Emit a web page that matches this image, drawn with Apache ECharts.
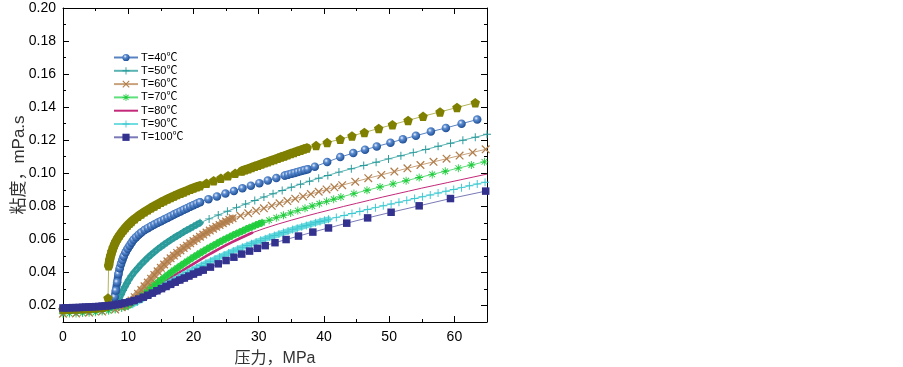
<!DOCTYPE html>
<html><head><meta charset="utf-8">
<script src="https://cdn.jsdelivr.net/npm/echarts@6/dist/echarts.min.js"></script>
<style>html,body{margin:0;padding:0;background:#fff}#c{width:903px;height:367px}</style>
</head><body><div id="c"></div>
<script>
// ---- tick values ----
const pressureTicks = [0, 10, 20, 30, 40, 50, 60];
const pressureMinor = [5, 15, 25, 35, 45, 55];
const viscTicks = [0.02, 0.04, 0.06, 0.08, 0.10, 0.12, 0.14, 0.16, 0.18, 0.20];
const viscMinor = [0.03, 0.05, 0.07, 0.09, 0.11, 0.13, 0.15, 0.17, 0.19];

const legendNames = ['T=40℃', 'T=50℃', 'T=60℃', 'T=70℃', 'T=80℃', 'T=90℃', 'T=100℃'];

// ---- series data: [pressure MPa, viscosity mPa.s] ----
const t30 = [[0,0.0176],[1,0.0177],[2,0.0178],[3,0.0180],[4,0.0182],[5,0.0185],[6,0.0189],[6.6,0.0195],[6.9,0.0245],[7.0,0.0440],[7.15,0.0475],[7.3,0.0500],[7.5,0.0527],[7.7,0.0550],[7.9,0.0570],[8.1,0.0587],[8.4,0.0608],[8.7,0.0626],[9.0,0.0643],[9.3,0.0658],[9.6,0.0672],[9.9,0.0685],[10.2,0.0697],[10.5,0.0708],[11,0.0725],[11.5,0.0740],[12,0.0754],[12.5,0.0767],[13,0.0779],[13.5,0.0791],[14,0.0802],[14.5,0.0813],[15,0.0824],[15.5,0.0834],[16,0.0844],[16.5,0.0853],[17,0.0862],[17.5,0.0871],[18,0.0879],[18.5,0.0887],[19,0.0895],[19.5,0.0903],[20,0.0911],[20.5,0.0918],[21,0.0925],[22,0.0940],[23.1,0.0955],[24.2,0.0970],[25.3,0.0985],[26.4,0.1000],[27.4,0.1014],[27.9,0.1021],[28.4,0.1028],[28.9,0.1035],[29.4,0.1042],[29.9,0.1049],[30.4,0.1056],[30.9,0.1063],[31.4,0.1070],[31.9,0.1077],[32.4,0.1084],[32.9,0.1091],[33.4,0.1098],[33.9,0.1105],[34.4,0.1112],[34.9,0.1119],[35.4,0.1126],[35.9,0.1133],[36.4,0.1140],[36.9,0.1147],[37.4,0.1153],[38.8,0.1168],[40.5,0.1186],[42.5,0.1206],[44.3,0.1226],[46.2,0.1247],[48.4,0.1271],[50.5,0.1294],[52.9,0.1320],[55.2,0.1345],[57.8,0.1371],[60.4,0.1398],[63.2,0.1427]];

const t40 = [[0,0.0178],[1,0.0179],[2,0.0180],[3,0.0182],[4,0.0184],[5,0.0187],[6,0.0191],[6.5,0.0194],[7,0.0198],[7.4,0.0207],[7.7,0.0222],[7.9,0.0250],[8.1,0.0290],[8.3,0.0340],[8.5,0.0390],[8.7,0.0425],[8.9,0.0452],[9.1,0.0475],[9.3,0.0497],[9.6,0.0522],[9.9,0.0543],[10.2,0.0562],[10.5,0.0580],[10.8,0.0597],[11.2,0.0613],[11.6,0.0628],[12,0.0641],[12.5,0.0656],[13,0.0668],[13.5,0.0679],[14,0.0690],[14.5,0.0700],[15,0.0710],[15.5,0.0720],[16,0.0730],[16.5,0.0740],[17,0.0750],[17.5,0.0760],[18,0.0769],[18.5,0.0779],[19,0.0788],[19.5,0.0798],[20,0.0807],[20.5,0.0816],[21,0.0825],[22.3,0.0843],[23.6,0.0860],[24.9,0.0877],[26.2,0.0893],[27.5,0.0909],[28.8,0.0925],[30.1,0.0940],[31.4,0.0956],[32.7,0.0971],[34,0.0986],[34.5,0.0991],[35,0.0997],[35.5,0.1002],[36,0.1008],[36.5,0.1013],[37,0.1019],[37.5,0.1024],[38.6,0.1040],[40.5,0.1068],[42.5,0.1098],[44.5,0.1122],[46.3,0.1143],[48.1,0.1162],[50.2,0.1185],[52.1,0.1206],[54.1,0.1227],[56.4,0.1252],[58.7,0.1274],[61.1,0.1300],[63.5,0.1325]];

const t50 = [[0,0.0160],[1,0.0161],[2,0.0163],[3,0.0165],[4,0.0167],[5,0.0170],[6,0.0175],[7,0.0182],[7.5,0.0190],[8,0.0203],[8.3,0.0218],[8.6,0.0240],[8.9,0.0265],[9.2,0.0290],[9.5,0.0313],[9.8,0.0335],[10.1,0.0356],[10.5,0.0380],[11,0.0405],[11.5,0.0428],[12,0.0450],[12.5,0.0470],[13,0.0489],[13.5,0.0507],[14,0.0524],[14.5,0.0540],[15,0.0555],[15.5,0.0569],[16,0.0583],[16.5,0.0596],[17,0.0609],[17.5,0.0621],[18,0.0633],[18.5,0.0645],[19,0.0656],[19.5,0.0667],[20,0.0678],[20.5,0.0689],[21,0.0700],[22.4,0.0724],[23.8,0.0747],[25.2,0.0770],[26.6,0.0792],[28.0,0.0814],[29.4,0.0835],[30.8,0.0856],[32.2,0.0876],[33.6,0.0896],[35.0,0.0915],[36.4,0.0934],[37.8,0.0952],[39.2,0.0970],[40.6,0.0987],[42.3,0.1007],[44.2,0.1027],[46.1,0.1047],[48.0,0.1067],[49.9,0.1087],[51.8,0.1106],[53.7,0.1125],[55.6,0.1144],[57.5,0.1163],[59.4,0.1182],[61.3,0.1200],[63.2,0.1218],[65,0.1236]];

const t60 = [[0,0.0150],[2,0.0152],[4,0.0156],[6,0.0163],[8,0.0175],[9,0.0190],[9.5,0.0200],[10,0.0213],[10.5,0.0230],[11,0.0250],[11.5,0.0271],[12,0.0293],[12.5,0.0316],[13,0.0339],[13.5,0.0362],[14,0.0385],[14.5,0.0407],[15,0.0428],[15.5,0.0448],[16,0.0467],[16.5,0.0485],[17,0.0502],[17.5,0.0518],[18,0.0533],[18.5,0.0548],[19,0.0562],[19.5,0.0576],[20,0.0590],[20.5,0.0603],[21,0.0616],[21.5,0.0629],[22,0.0641],[22.5,0.0653],[23,0.0665],[23.5,0.0676],[24,0.0687],[24.5,0.0698],[25,0.0708],[25.5,0.0718],[26,0.0728],[27.2,0.0743],[28.4,0.0758],[29.6,0.0773],[30.8,0.0788],[32,0.0803],[33.2,0.0818],[34.4,0.0832],[35.6,0.0846],[36.8,0.0860],[38,0.0874],[39.2,0.0888],[40.4,0.0902],[41.6,0.0915],[42.8,0.0928],[44.8,0.0949],[46.8,0.0970],[48.8,0.0990],[50.8,0.1010],[52.8,0.1030],[54.8,0.1050],[56.8,0.1069],[58.8,0.1088],[60.8,0.1107],[62.8,0.1126],[64.8,0.1145]];

const t70 = [[0,0.0150],[1,0.0151],[2,0.0152],[3,0.0154],[4,0.0156],[5,0.0159],[6,0.0163],[7,0.0168],[8,0.0175],[9,0.0185],[9.5,0.0192],[10,0.0200],[10.5,0.0213],[11,0.0228],[11.5,0.0244],[12,0.0260],[12.5,0.0276],[13,0.0292],[13.5,0.0308],[14,0.0324],[14.5,0.0339],[15,0.0354],[15.5,0.0369],[16,0.0384],[16.5,0.0398],[17,0.0412],[17.5,0.0426],[18,0.0440],[18.5,0.0453],[19,0.0466],[19.5,0.0479],[20,0.0492],[20.5,0.0504],[21,0.0516],[21.5,0.0528],[22,0.0540],[22.5,0.0551],[23,0.0562],[23.5,0.0573],[24,0.0584],[24.5,0.0594],[25,0.0604],[25.5,0.0614],[26,0.0624],[26.5,0.0633],[27,0.0642],[27.5,0.0651],[28,0.0660],[28.5,0.0669],[29,0.0677],[29.5,0.0685],[30,0.0693],[30.5,0.0701],[31.6,0.0716],[32.7,0.0731],[33.8,0.0746],[34.9,0.0760],[36,0.0774],[37.1,0.0788],[38.2,0.0802],[39.3,0.0816],[40.4,0.0830],[41.5,0.0843],[42.6,0.0856],[44.6,0.0877],[46.6,0.0897],[48.6,0.0917],[50.6,0.0936],[52.6,0.0955],[54.6,0.0974],[56.6,0.0993],[58.6,0.1012],[60.6,0.1031],[62.6,0.1050],[64.6,0.1069]];

const t80 = [[0,0.0155],[2,0.0158],[4,0.0162],[6,0.0168],[8,0.0178],[9,0.0187],[10,0.0200],[11,0.0220],[12,0.0245],[13,0.0272],[14,0.0300],[15,0.0328],[16,0.0354],[17,0.0380],[18,0.0404],[19,0.0428],[20,0.0452],[21,0.0476],[22,0.0500],[23,0.0522],[24,0.0544],[25,0.0565],[26,0.0585],[27,0.0604],[28,0.0622],[29,0.0640],[31,0.0668],[33,0.0693],[35,0.0716],[37,0.0738],[39,0.0759],[41,0.0779],[43,0.0799],[45,0.0818],[47,0.0837],[49,0.0856],[51,0.0874],[53,0.0892],[55,0.0910],[57,0.0927],[59,0.0944],[61,0.0961],[63,0.0978],[65,0.0995]];

const t90 = [[0,0.0160],[1,0.0161],[2,0.0163],[3,0.0164],[4,0.0166],[5,0.0168],[6,0.0171],[7,0.0175],[8,0.0180],[9,0.0187],[10,0.0196],[10.7,0.0207],[11.4,0.0221],[12.1,0.0237],[12.8,0.0254],[13.5,0.0271],[14.2,0.0288],[14.9,0.0305],[15.6,0.0322],[16.3,0.0338],[17,0.0354],[17.7,0.0369],[18.4,0.0384],[19.1,0.0399],[19.8,0.0414],[20.5,0.0428],[21.2,0.0442],[21.9,0.0455],[22.6,0.0468],[23.3,0.0481],[24,0.0494],[24.7,0.0506],[25.4,0.0518],[26.1,0.0530],[26.8,0.0541],[27.5,0.0552],[28.2,0.0563],[28.9,0.0574],[29.6,0.0584],[30.3,0.0594],[31,0.0604],[31.7,0.0614],[32.4,0.0623],[33.1,0.0632],[33.8,0.0641],[34.5,0.0650],[35.2,0.0659],[35.9,0.0668],[36.6,0.0676],[37.3,0.0684],[38,0.0692],[38.7,0.0700],[39.4,0.0708],[40.1,0.0715],[40.7,0.0721],[41.9,0.0733],[43.1,0.0745],[44.3,0.0757],[45.5,0.0769],[46.7,0.0781],[47.9,0.0792],[49.1,0.0803],[50.3,0.0814],[51.5,0.0825],[52.7,0.0836],[53.9,0.0847],[55.1,0.0858],[56.3,0.0869],[57.5,0.0880],[58.7,0.0891],[59.9,0.0902],[61.1,0.0913],[62.3,0.0924],[63.5,0.0935],[64.7,0.0946]];

const t100 = [[0,0.0185],[0.5,0.0186],[1,0.0186],[1.5,0.0187],[2,0.0187],[2.5,0.0188],[3,0.0189],[3.5,0.0190],[4,0.0191],[4.5,0.0192],[5,0.0193],[5.5,0.0194],[6,0.0196],[6.5,0.0197],[7,0.0199],[7.5,0.0201],[8,0.0204],[8.5,0.0207],[9,0.0211],[9.5,0.0216],[10.2,0.0222],[10.9,0.0230],[11.6,0.0239],[12.3,0.0250],[13,0.0262],[13.7,0.0275],[14.4,0.0289],[15.1,0.0302],[15.8,0.0315],[16.5,0.0328],[17.2,0.0341],[17.9,0.0354],[18.6,0.0366],[19.3,0.0378],[20,0.0390],[20.7,0.0402],[21.5,0.0414],[22.6,0.0432],[23.8,0.0452],[25,0.0472],[26.2,0.0492],[27.4,0.0511],[28.6,0.0529],[29.8,0.0546],[31,0.0562],[32.5,0.0580],[34.2,0.0599],[36.1,0.0620],[38.3,0.0644],[40.7,0.0669],[43.5,0.0698],[46.7,0.0730],[50.3,0.0764],[54.6,0.0803],[59.4,0.0847],[64.8,0.0892]];

// pressure ranges (MPa) where the measurements are densely sampled
const t30Dense = [[7.0, 21], [27.4, 37.4]];
const t40Dense = [[7.7, 21], [34, 37.5]];
const t50Dense = [[8, 21]];
const t60Dense = [[9.5, 26]];
const t70Dense = [[9.5, 30.5]];
const t80Dense = [[10, 29]];
const t90Dense = [[10, 40.7]];
const t100Dense = [[0, 21.5]];

// ---- symbols ----
const PENTAGON = 'path://M0,-10L9.51,-3.09L5.88,8.09L-5.88,8.09L-9.51,-3.09Z';
const PLUS = 'path://M-0.6,-5H0.6V-0.6H5V0.6H0.6V5H-0.6V0.6H-5V-0.6H-0.6Z';
const CROSS = 'path://M-3.12,-3.96L3.96,3.12L3.12,3.96L-3.96,-3.12ZM-3.96,3.12L3.12,-3.96L3.96,-3.12L-3.12,3.96Z';
const STAR = 'path://M-0.55,-5H0.55V5H-0.55ZM-5,-0.55H5V0.55H-5ZM-3.15,-3.93L3.93,3.15L3.15,3.93L-3.93,-3.15ZM-3.93,3.15L3.15,-3.93L3.93,-3.15L-3.15,3.93Z';

const FONT = 'Arial, "Liberation Sans", "Noto Sans CJK SC", sans-serif';
const sphere = {type:'radial', x:0.38, y:0.35, r:0.65, colorStops:[{offset:0,color:'#eef4ff'},{offset:0.35,color:'#5c8cd0'},{offset:1,color:'#1f4f96'}]};

function mk(name, data, symbol, size, color, lineColor) {
  return {
    name, type:'line', data, symbol, symbolSize:size, showAllSymbol:true,
    xAxisIndex:0, yAxisIndex:0,
    itemStyle:{color, borderWidth:0},
    lineStyle:{color:lineColor, width:1},
    emphasis:{disabled:true}, silent:true, animation:false
  };
}
function band(data, ranges, width, color) {
  return ranges.map(r => ({
    name:'band', type:'line', symbol:'none', silent:true, animation:false,
    emphasis:{disabled:true}, xAxisIndex:0, yAxisIndex:0,
    data:data.filter(p => p[0] >= r[0] && p[0] <= r[1]),
    lineStyle:{color, width, cap:'round', join:'round'}
  }));
}

const series = [].concat(
  band(t80, t80Dense, 2.6, '#c4287a'),
  [mk('T=80℃', t80, 'none', 0, '#c4287a', '#c4287a')],
  band(t90, t90Dense, 6, '#6fdbe0'),
  [mk('T=90℃', t90, PLUS, 8, '#3cc8d0', '#70dde0')],
  band(t70, t70Dense, 6.5, '#38d450'),
  [mk('T=70℃', t70, STAR, 8, '#1fcc3c', '#5ee07a')],
  band(t60, t60Dense, 7, '#c49468'),
  [mk('T=60℃', t60, CROSS, 8.5, '#b07e4c', '#c9a27c')],
  band(t50, t50Dense, 6.5, '#2f9c9c'),
  [mk('T=50℃', t50, PLUS, 8, '#2a9a9a', '#5ab4b4')],
  band(t40, t40Dense, 8, '#2c60aa'),
  [mk('T=40℃', t40, 'circle', 8.5, sphere, '#5a82c0')],
  band(t30, t30Dense, 9, '#7f7f00'),
  [mk('T=30℃', t30, PENTAGON, 9.5, '#7f7f00', '#b4b45a')],
  band(t100, t100Dense, 7, '#33338f'),
  [mk('T=100℃', t100, 'rect', 7.5, '#33338f', '#7a7ab8')]
);

function axisCommon(extra) {
  return Object.assign({type:'value', splitLine:{show:false}, axisPointer:{show:false}}, extra);
}
const tickLine = {color:'#000', width:1};

const xAxes = [
  axisCommon({min:0, max:65, position:'bottom',
    axisLine:{show:true, onZero:false, lineStyle:tickLine},
    axisTick:{show:true, inside:true, length:6, customValues:pressureTicks, lineStyle:tickLine},
    axisLabel:{show:true, customValues:pressureTicks, color:'#000', fontSize:14, fontFamily:FONT, margin:8},
    name:'压力，MPa', nameLocation:'middle', nameGap:29, nameMoveOverlap:false,
    nameTextStyle:{color:'#333', fontSize:16, fontFamily:FONT}}),
  axisCommon({min:0, max:65, position:'bottom',
    axisLine:{show:false, onZero:false}, axisLabel:{show:false},
    axisTick:{show:true, inside:true, length:3, customValues:pressureMinor, lineStyle:tickLine}}),
  axisCommon({min:0, max:65, position:'top',
    axisLine:{show:true, onZero:false, lineStyle:tickLine}, axisLabel:{show:false},
    axisTick:{show:true, inside:true, length:6, customValues:pressureTicks, lineStyle:tickLine}}),
  axisCommon({min:0, max:65, position:'top',
    axisLine:{show:false, onZero:false}, axisLabel:{show:false},
    axisTick:{show:true, inside:true, length:3, customValues:pressureMinor, lineStyle:tickLine}})
];
const yAxes = [
  axisCommon({min:0.01, max:0.20, position:'left',
    axisLine:{show:true, onZero:false, lineStyle:tickLine},
    axisTick:{show:true, inside:true, length:6, customValues:viscTicks, lineStyle:tickLine},
    axisLabel:{show:true, customValues:viscTicks, color:'#000', fontSize:14, fontFamily:FONT, margin:7,
      formatter: v => v.toFixed(2)},
    name:'粘度，mPa.s', nameLocation:'middle', nameRotate:90, nameGap:35, nameMoveOverlap:false,
    nameTextStyle:{color:'#333', fontSize:17, fontFamily:FONT}}),
  axisCommon({min:0.01, max:0.20, position:'left',
    axisLine:{show:false, onZero:false}, axisLabel:{show:false},
    axisTick:{show:true, inside:true, length:3, customValues:viscMinor, lineStyle:tickLine}}),
  axisCommon({min:0.01, max:0.20, position:'right',
    axisLine:{show:true, onZero:false, lineStyle:tickLine}, axisLabel:{show:false},
    axisTick:{show:true, inside:true, length:6, customValues:viscTicks, lineStyle:tickLine}}),
  axisCommon({min:0.01, max:0.20, position:'right',
    axisLine:{show:false, onZero:false}, axisLabel:{show:false},
    axisTick:{show:true, inside:true, length:3, customValues:viscMinor, lineStyle:tickLine}})
];

const legendData = legendNames.map(n => n === 'T=80℃'
  ? {name:n, itemStyle:{color:'rgba(0,0,0,0)', borderWidth:0}} : {name:n});

const chart = echarts.init(document.getElementById('c'), null, {renderer:'canvas'});
chart.setOption({
  animation:false,
  backgroundColor:'#fff',
  grid:{left:63, top:8, width:424, height:314, containLabel:false, outerBoundsMode:'none'},
  xAxis:xAxes,
  yAxis:yAxes,
  legend:{
    data:legendData, orient:'vertical', left:113, top:52,
    itemWidth:24, itemHeight:9, itemGap:2.3, padding:0, selectedMode:false,
    textStyle:{color:'#000', fontSize:11, fontFamily:FONT, padding:[0,0,0,-2]}
  },
  series
});
</script>
</body></html>
